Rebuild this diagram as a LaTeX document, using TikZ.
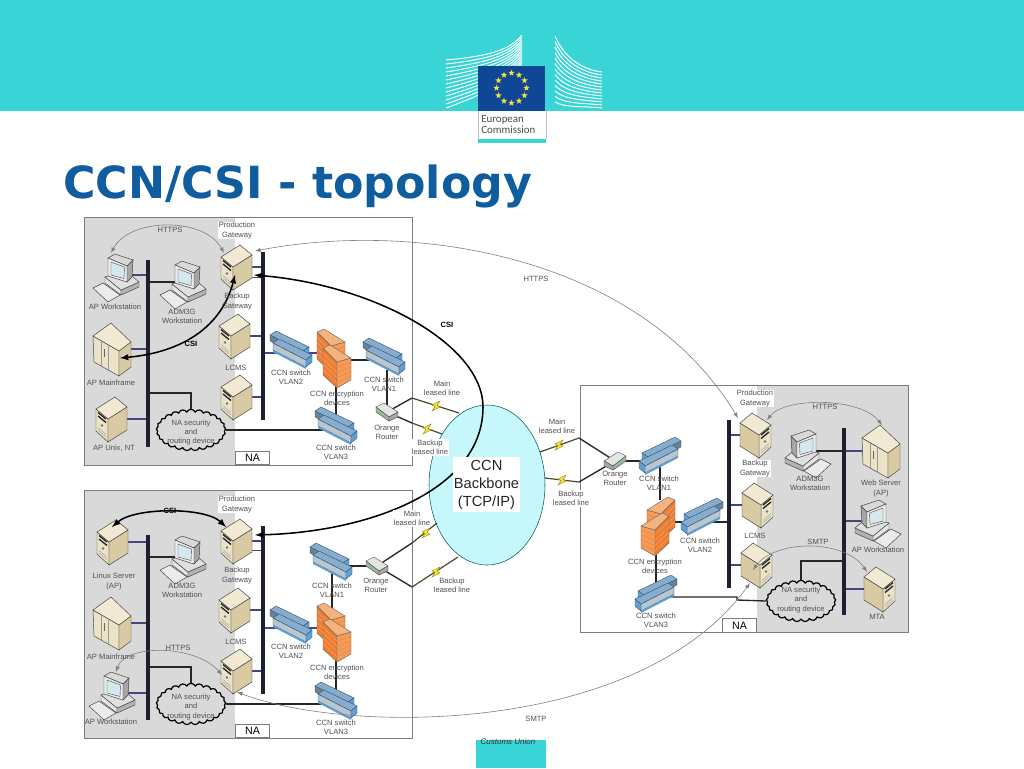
\documentclass[tikz,border=0pt]{standalone}
\usepackage{fontspec}
\setsansfont{Liberation Sans}
\newfontfamily\titlefont{DejaVu Sans}
\newfontfamily\logofont{Carlito}
\usepackage{xcolor}
\usetikzlibrary{arrows}
\usetikzlibrary{shapes.geometric, shapes.symbols}
\definecolor{myteal}{RGB}{56,212,214}
\definecolor{mytitle}{RGB}{15,92,158}
\definecolor{mygray}{RGB}{217,217,217}
\definecolor{myframe}{RGB}{125,125,125}
\definecolor{mylan}{RGB}{70,70,125}
\definecolor{mybus}{RGB}{28,32,50}
\definecolor{mytext}{RGB}{80,80,80}
\definecolor{myflag}{RGB}{15,70,150}
\definecolor{mystar}{RGB}{245,225,60}
\definecolor{myocean}{RGB}{198,248,251}
\definecolor{srvtop}{RGB}{241,233,210}
\definecolor{srvleft}{RGB}{236,226,198}
\definecolor{srvright}{RGB}{216,202,163}
\definecolor{swtop}{RGB}{135,172,205}
\definecolor{swface}{RGB}{105,130,150}
\definecolor{swlight}{RGB}{185,198,206}
\definecolor{swend}{RGB}{95,160,215}
\definecolor{swdark}{RGB}{50,85,115}
\definecolor{fwleft}{RGB}{236,125,50}
\definecolor{fwright}{RGB}{244,155,88}
\definecolor{fwtop}{RGB}{246,178,125}
\tikzset{
lbl/.style={font=\sffamily\fontsize{5.7}{6.8}\selectfont,text=mytext,align=center,inner sep=0.6pt},
lblbg/.style={lbl,fill=white},
lblb/.style={lbl,font=\sffamily\bfseries\fontsize{5.7}{6.8}\selectfont,text=black},
lan/.style={color=mylan,line width=0.9},
wire/.style={color=black!85,line width=1},
bus/.style={color=mybus,line width=2.3},
leased/.style={color=black!60!olive,line width=0.9},
arc/.style={color=black!50,line width=0.45,latex-latex},
csi/.style={color=black,line width=1.15,latex-latex},
bolt/.style={fill=mystar,draw=olive,line width=0.3},
nacloud/.style={cloud,cloud puffs=25,cloud puff arc=130,aspect=1.75,draw=black,line width=0.9,minimum width=52pt,minimum height=31pt,inner sep=0},
nabox/.style={draw=myframe,fill=white,line width=0.6,font=\sffamily\fontsize{8}{9}\selectfont,minimum width=26pt,minimum height=10pt,inner sep=0},
serverbox/.pic={
\filldraw[fill=srvleft,draw=black!75,line width=0.35] (-16,-10) -- (-4,0) -- (-4,23) -- (-16,12) -- cycle;
\filldraw[fill=srvright,draw=black!75,line width=0.35] (-4,0) -- (15,-12) -- (15,11) -- (-4,23) -- cycle;
\filldraw[fill=srvtop,draw=black!75,line width=0.35] (-16,-10) -- (3,-22) -- (15,-12) -- (-4,0) -- cycle;
\draw[black!85,line width=1] (-14,-6.5) -- (-6,0) (-14,-3) -- (-6,3.5);
\fill[black!55] (-10,6.5) circle (1.3);
\draw[black!35,line width=0.4] (-14,11) -- (-6,18) (-14,8.5) -- (-6,15.5);
},
towerbox/.pic={
\filldraw[fill=srvleft,draw=black!75,line width=0.35] (-19,-13) -- (7,2) -- (7,27) -- (-18,13) -- cycle;
\filldraw[fill=srvright,draw=black!75,line width=0.35] (7,2) -- (19,-7) -- (19,18) -- (7,27) -- cycle;
\filldraw[fill=srvtop,draw=black!75,line width=0.35] (-19,-13) -- (-1,-26) -- (19,-7) -- (7,2) -- cycle;
\draw[black!40,line width=0.4] (-11,-8) -- (-11,17) (-4,-4.5) -- (-4,21);
\draw[black!60,line width=0.5] (-7.5,0) -- (-7.5,8);
},
workstation/.pic={
\filldraw[fill=black!10,draw=black!75,line width=0.35] (-10,2) -- (6,15) -- (6,20) -- (-10,8) -- cycle;
\filldraw[fill=black!30,draw=black!75,line width=0.35] (6,15) -- (24,7) -- (24,12) -- (6,20) -- cycle;
\filldraw[fill=black!12,draw=black!75,line width=0.35] (-10,2) -- (10,-5) -- (24,7) -- (6,15) -- cycle;
\filldraw[fill=black!35,draw=black!75,line width=0.35] (12,-9) -- (18,-15) -- (17,2) -- (12,7) -- cycle;
\filldraw[fill=black!15,draw=black!75,line width=0.35] (-7,-17) -- (0,-21) -- (18,-15) -- (12,-9) -- cycle;
\filldraw[fill=black!8,draw=black!75,line width=0.35] (-7,-17) -- (12,-9) -- (12,7) -- (-7,1) -- cycle;
\filldraw[fill=black!35!cyan!18!white,draw=black!70,line width=0.3] (-4,-13) -- (9.5,-8) -- (9,3.5) -- (-4,0) -- cycle;
\filldraw[fill=black!8,draw=black!75,line width=0.35] (-22,13) -- (-12,8) -- (5,20) -- (-7,27) -- cycle;
},
vlanswitch/.pic={
\filldraw[fill=swface,draw=swdark,line width=0.3] (-20,-14) -- (13,2) -- (13,8) -- (-20,-8) -- cycle;
\filldraw[fill=swtop,draw=swdark,line width=0.3] (-20,-14) -- (-14,-18) -- (19,-2) -- (13,2) -- cycle;
\filldraw[fill=swend,draw=swdark,line width=0.3] (13,2) -- (19,-2) -- (19,4) -- (13,8) -- cycle;
\filldraw[fill=swlight,draw=swdark,line width=0.3] (-17,-6) -- (16,11) -- (16,18) -- (-17,1) -- cycle;
\filldraw[fill=swtop,draw=swdark,line width=0.3] (-17,-6) -- (-11,-10) -- (22,6) -- (16,11) -- cycle;
\filldraw[fill=swend,draw=swdark,line width=0.3] (16,11) -- (22,6) -- (22,13) -- (16,18) -- cycle;
\fill[swend] (-17,1) -- (16,18) -- (16,20) -- (-17,3) -- cycle;
},
firewallbox/.pic={
\foreach \s in {-6,0}{
\begin{scope}[shift={(\s,2.67*\s)}]
\filldraw[fill=fwleft,draw=black!60,line width=0.3] (-10,-10) -- (4,4) -- (4,30) -- (-10,17) -- cycle;
\filldraw[fill=fwright,draw=black!60,line width=0.3] (4,4) -- (18,0) -- (18,22) -- (4,30) -- cycle;
\filldraw[fill=fwtop,draw=black!60,line width=0.3] (-10,-10) -- (-3,-13) -- (18,0) -- (4,4) -- cycle;
\foreach \k in {1,...,4}{
\draw[fwleft,line width=0.25] (4,{4+5.2*\k}) -- (18,{0+4.4*\k});
\draw[fwtop,line width=0.25] (-10,{-10+5.4*\k}) -- (4,{4+5.2*\k});
}
\end{scope}
}
},
orangerouter/.pic={
\filldraw[fill=black!10,draw=black!70,line width=0.3] (-11,-5) -- (-3,-9) -- (11,0) -- (2,5) -- cycle;
\filldraw[fill=green!30!black!40,draw=black!70,line width=0.3] (-11,-5) -- (2,5) -- (2,9) -- (-11,0) -- cycle;
\filldraw[fill=black!35,draw=black!70,line width=0.3] (2,5) -- (11,0) -- (11,5) -- (2,9) -- cycle;
},
zigzag/.pic={
\filldraw[bolt] (-4,-1) -- (4,-5) -- (1,-0.5) -- (4,1) -- (-4,5) -- (-1,0.5) -- cycle;
},
}
\begin{document}
\begin{tikzpicture}[x=0.75pt,y=-0.75pt]
\useasboundingbox (0,0) rectangle (1024,768);
\fill[white] (0,0) rectangle (1024,768);

%header and logo
\fill[myteal] (0,0) rectangle (1024,111);
\foreach \k in {0,...,12}{
\draw[white,line width=0.75] (446,{60+4*\k}) .. controls (490,{56+3*\k}) and (510,{50+2.5*\k}) .. (522,{35+2.5*\k});
\draw[white,line width=0.75] (555,{36+5.5*\k}) .. controls (565,{60+4*\k}) and (585,{70+3*\k}) .. (602,{72+3*\k});
}
\fill[myflag] (478,66) rectangle (545,111);
\foreach \a in {0,30,...,330}{
\node[star,star points=5,star point ratio=2.4,fill=mystar,inner sep=0,minimum size=5pt] (star\a) at ({511.5+15*cos(\a)},{88+15*sin(\a)}) {};
}
\fill[white] (478,111) rectangle (546,143);
\fill[myteal] (478,139) rectangle (546,143);
\draw[black!25,line width=0.4] (478,111) -- (478,139) (546,111) -- (546,139);
\node[anchor=west,inner sep=0,text=black!70,font=\logofont\fontsize{8.2}{9}\selectfont] (logoA) at (481,120) {European};
\node[anchor=west,inner sep=0,text=black!70,font=\logofont\fontsize{8.2}{9}\selectfont] (logoB) at (481,130) {Commission};
\node[anchor=base west,inner sep=0,text=mytitle,font=\titlefont\bfseries\fontsize{33.2}{36}\selectfont] (title) at (63,198) {CCN/CSI - topology};
\fill[myteal] (476,740) rectangle (546,768);
\node[inner sep=0,text=black!80,font=\sffamily\itshape\fontsize{6}{7}\selectfont] (footer) at (508,742) {Customs Union};

%site frames
\fill[mygray] (84,217) rectangle (235,465);
\fill[mygray] (84,490) rectangle (235,738);
\fill[mygray] (757,385) rectangle (908,632);
\draw[myframe,line width=0.6] (84,217) rectangle (412,465);
\draw[myframe,line width=0.6] (84,490) rectangle (412,738);
\draw[myframe,line width=0.6] (580,385) rectangle (908,632);
\node[nabox] (naA) at (252.5,458) {NA};
\node[nabox] (naB) at (252.5,731) {NA};
\node[nabox] (naC) at (739.5,625.5) {NA};

%backbone
\node[ellipse,draw=black!30!teal,fill=myocean,line width=0.4,minimum width=87pt,minimum height=120pt,inner sep=0] (backbone) at (487,485) {};

%site A
\coordinate (busAl) at (148,260);
\coordinate (busAlb) at (148,447);
\coordinate (busAr) at (263,252);
\coordinate (busArb) at (263,420);
\coordinate (wsA) at (115,275);
\coordinate (admA) at (182,282);
\coordinate (mainA) at (112,349);
\coordinate (unixA) at (112,419);
\coordinate (gwA) at (237,267);
\coordinate (lcmsA) at (235,336);
\coordinate (secA) at (237,397);
\coordinate (swbA) at (290,349);
\coordinate (fwA) at (333,358);
\coordinate (swaA) at (383,356);
\coordinate (rtA) at (387,412);
\coordinate (swcA) at (335,425);
\coordinate (cornerA) at (412,398);
\coordinate (cornerAb) at (412,423);
\coordinate (landA) at (459,413);
\coordinate (landAb) at (442,434);
\node[nacloud] (cloudA) at (191,430) {};

\draw[lan] (wsA) -- (wsA -| busAl);
\draw[wire] (admA) -- (admA -| busAl);
\draw[lan] (mainA) -- (mainA -| busAl);
\draw[lan] (unixA) -- (unixA -| busAl);
\draw[lan] (gwA) -- (gwA -| busAr);
\draw[lan] ([yshift=-8pt]gwA) -- ([yshift=-8pt]gwA -| busAr);
\draw[lan] (lcmsA) -- (lcmsA -| busAr);
\draw[lan] (secA) -- (secA -| busAr);
\draw[lan] (busAr |- 0,353) -- (fwA |- 0,353);
\draw[wire] (fwA |- 0,360) -- (swaA |- 0,360);
\draw[wire] (336,380) -- (336,420);
\draw[wire] (387,370) -- (rtA);
\draw[wire] (busAl |- 0,393) -- (191,393) -- (cloudA.north);
\draw[wire] (cloudA.east) -- (swcA |- cloudA.east);
\draw[wire] (rtA) -- (cornerA);
\draw[wire] (rtA) -- (cornerAb);
\draw[leased] (cornerA) -- (landA);
\draw[leased] (cornerAb) -- (landAb);
\draw[bus] (busAl) -- (busAlb);
\draw[bus] (busAr) -- (busArb);

\pic at (wsA) {workstation};
\pic at (admA) {workstation};
\pic at (mainA) {towerbox};
\pic at (unixA) {serverbox};
\pic at (gwA) {serverbox};
\pic at (lcmsA) {serverbox};
\pic at (secA) {serverbox};
\pic at (swbA) {vlanswitch};
\pic at (fwA) {firewallbox};
\pic at (swaA) {vlanswitch};
\pic at (swcA) {vlanswitch};
\pic at (rtA) {orangerouter};
\pic at (436,406) {zigzag};
\pic at (427,429) {zigzag};

%site B
\coordinate (busBl) at (148,535);
\coordinate (busBlb) at (148,720);
\coordinate (busBr) at (263,526);
\coordinate (busBrb) at (263,694);
\coordinate (linuxB) at (113,542);
\coordinate (admB) at (182,557);
\coordinate (mainB) at (112,623);
\coordinate (wsB) at (111,693);
\coordinate (gwB) at (237,541);
\coordinate (lcmsB) at (235,610);
\coordinate (secB) at (237,671);
\coordinate (swaB) at (330,561);
\coordinate (rtB) at (377,566);
\coordinate (swbB) at (290,624);
\coordinate (fwB) at (333,632);
\coordinate (swcB) at (335,700);
\coordinate (cornerB) at (412,543);
\coordinate (cornerBb) at (412,587);
\coordinate (landB) at (437,523);
\coordinate (landBb) at (458,557);
\node[nacloud] (cloudB) at (191,704) {};

\draw[lan] (linuxB) -- (linuxB -| busBl);
\draw[wire] (admB) -- (admB -| busBl);
\draw[lan] (mainB) -- (mainB -| busBl);
\draw[lan] (wsB) -- (wsB -| busBl);
\draw[lan] (gwB) -- (gwB -| busBr);
\draw[lan] ([yshift=-7pt]gwB) -- ([yshift=-7pt]gwB -| busBr);
\draw[lan] (lcmsB) -- (lcmsB -| busBr);
\draw[lan] (secB) -- (secB -| busBr);
\draw[lan] (busBr |- 0,628) -- (fwB |- 0,628);
\draw[wire] (332,570) -- (332,610);
\draw[wire] (336,660) -- (336,690);
\draw[wire] (rtB) -- (rtB -| swaB);
\draw[wire] (busBl |- 0,667) -- (191,667) -- (cloudB.north);
\draw[wire] (cloudB.east) -- (swcB |- cloudB.east);
\draw[wire] (rtB) -- (cornerB);
\draw[wire] (rtB) -- (cornerBb);
\draw[leased] (cornerB) -- (landB);
\draw[leased] (cornerBb) -- (landBb);
\draw[bus] (busBl) -- (busBlb);
\draw[bus] (busBr) -- (busBrb);

\pic at (linuxB) {serverbox};
\pic at (admB) {workstation};
\pic at (mainB) {towerbox};
\pic at (wsB) {workstation};
\pic at (gwB) {serverbox};
\pic at (lcmsB) {serverbox};
\pic at (secB) {serverbox};
\pic at (swaB) {vlanswitch};
\pic at (swbB) {vlanswitch};
\pic at (fwB) {firewallbox};
\pic at (swcB) {vlanswitch};
\pic at (rtB) {orangerouter};
\pic at (426,533) {zigzag};
\pic at (436,572) {zigzag};

%site C
\coordinate (busCl) at (729,420);
\coordinate (busClb) at (729,588);
\coordinate (busCr) at (844,428);
\coordinate (busCrb) at (844,615);
\coordinate (gwC) at (755,435);
\coordinate (lcmsC) at (757,505);
\coordinate (secC) at (756,565);
\coordinate (admC) at (809,451);
\coordinate (webC) at (881,451);
\coordinate (wsC) at (879,521);
\coordinate (mtaC) at (879,589);
\coordinate (swaC) at (661,455);
\coordinate (rtC) at (615,461);
\coordinate (swbC) at (703,516);
\coordinate (fwC) at (659,526);
\coordinate (swcC) at (657,593);
\coordinate (cornerC) at (579,438);
\coordinate (cornerCb) at (579,482);
\coordinate (landC) at (540,452);
\coordinate (landCb) at (545,478);
\node[nacloud] (cloudC) at (801,601) {};

\draw[lan] (gwC) -- (gwC -| busCl);
\draw[lan] (lcmsC) -- (lcmsC -| busCl);
\draw[lan] (secC) -- (secC -| busCl);
\draw[wire] (busCl |- 0,522) -- (fwC |- 0,522);
\draw[wire] (admC) -- (admC -| busCr);
\draw[lan] (webC) -- (webC -| busCr);
\draw[lan] (wsC) -- (wsC -| busCr);
\draw[lan] (mtaC) -- (mtaC -| busCr);
\draw[wire] (660,467) -- (660,500);
\draw[wire] (656,550) -- (656,585);
\draw[wire] (rtC) -- (rtC -| swaC);
\draw[wire] (busCr |- 0,561) -- (801,561) -- (cloudC.north);
\draw[wire] (swcC |- 0,597) -- (737,597) -- (737,600) -- (cloudC.west);
\draw[wire] (rtC) -- (cornerC);
\draw[wire] (rtC) -- (cornerCb);
\draw[leased] (cornerC) -- (landC);
\draw[leased] (cornerCb) -- (landCb);
\draw[bus] (busCl) -- (busClb);
\draw[bus] (busCr) -- (busCrb);

\pic[xscale=-1] at (gwC) {serverbox};
\pic[xscale=-1] at (lcmsC) {serverbox};
\pic[xscale=-1] at (secC) {serverbox};
\pic[xscale=-1] at (admC) {workstation};
\pic at (webC) {towerbox};
\pic[xscale=-1] at (wsC) {workstation};
\pic[xscale=-1] at (mtaC) {serverbox};
\pic[xscale=-1] at (swaC) {vlanswitch};
\pic[xscale=-1] at (swbC) {vlanswitch};
\pic[xscale=-1] at (fwC) {firewallbox};
\pic[xscale=-1] at (swcC) {vlanswitch};
\pic[xscale=-1] at (rtC) {orangerouter};
\pic at (559,445) {zigzag};
\pic at (562,480) {zigzag};

%protocol arcs
\coordinate (httpsAa) at (224,253);
\coordinate (httpsAb) at (111,253);
\coordinate (csiAa) at (235,275);
\coordinate (csiAb) at (120,358);
\coordinate (csiBa) at (226,527);
\coordinate (csiBb) at (112,527);
\coordinate (httpsBa) at (116,672);
\coordinate (httpsBb) at (222,675);
\coordinate (httpsCa) at (767,420);
\coordinate (httpsCb) at (882,425);
\coordinate (smtpCa) at (753,570);
\coordinate (smtpCb) at (867,572);
\coordinate (longHa) at (255,251);
\coordinate (longHb) at (738,418);
\coordinate (longSa) at (237,692);
\coordinate (longSb) at (750,583);
\coordinate (longCa) at (254,275);
\coordinate (longCm) at (483,407);
\coordinate (longCb) at (255,535);

\draw[arc] (httpsAa) .. controls (205,217) and (130,217) .. (httpsAb);
\draw[csi] (csiAa) .. controls (222,325) and (185,352) .. (csiAb);
\draw[csi] (csiBa) .. controls (205,507) and (135,507) .. (csiBb);
\draw[arc] (httpsBa) .. controls (125,644) and (195,644) .. (httpsBb);
\draw[arc] (httpsCa) .. controls (785,397) and (860,397) .. (httpsCb);
\draw[arc] (smtpCa) .. controls (775,539) and (845,539) .. (smtpCb);
\draw[arc] (longHa) .. controls (416,220) and (640,256) .. (longHb);
\draw[arc] (longSa) .. controls (350,735) and (640,735) .. (longSb);
\draw[color=black,line width=1.15,latex-] (longCa) .. controls (375,285) and (483,345) .. (longCm);
\draw[color=black,line width=1.15,-latex] (longCm) .. controls (483,490) and (370,532) .. (longCb);

%backbone text on top
\node[fill=white,align=center,inner sep=0,minimum width=50pt,minimum height=41pt,font=\sffamily\fontsize{11}{13.5}\selectfont,text=black!85] (backboneT) at (486.5,484.5) {CCN\\Backbone\\(TCP/IP)};

%labels site A
\node[lbl] (lHttpsA) at (170,230) {HTTPS};
\node[lblbg] (lProdA) at (237,230.5) {Production\\Gateway};
\node[lbl] (lBackA) at (237,301.5) {Backup\\Gateway};
\node[lbl] (lWsA) at (115,307) {AP Workstation};
\node[lbl] (lAdmA) at (182,316) {ADM3G\\Workstation};
\node[lbl] (lMainA) at (111,383) {AP Mainframe};
\node[lbl] (lUnixA) at (114,448) {AP Unix, NT};
\node[lbl] (lLcmsA) at (236,368) {LCMS};
\node[lblb] (lCsiA) at (191,344) {CSI};
\node[lblb] (lCsiL) at (447,325) {CSI};
\node[lbl] (lSwbA) at (291,377.5) {CCN switch\\VLAN2};
\node[lbl] (lFwA) at (337,398.5) {CCN encryption\\devices};
\node[lbl] (lSwaA) at (384,384.5) {CCN switch\\VLAN1};
\node[lbl] (lRtA) at (387,432) {Orange\\Router};
\node[lbl] (lSwcA) at (336,452.5) {CCN switch\\VLAN3};
\node[lbl] (lCloudA) at (191,432.5) {NA security\\and\\routing device};
\node[lblbg] (lMainLA) at (442,388.5) {Main\\leased line};
\node[lblbg] (lBackLA) at (430,447.5) {Backup\\leased line};

%labels site B
\node[lblbg] (lProdB) at (237,504.5) {Production\\Gateway};
\node[lbl] (lBackB) at (237,575.5) {Backup\\Gateway};
\node[lbl] (lLinuxB) at (114,581.5) {Linux Server\\(AP)};
\node[lbl] (lAdmB) at (182,590.5) {ADM3G\\Workstation};
\node[lbl] (lMainB) at (111,657) {AP Mainframe};
\node[lbl] (lWsB) at (111,722) {AP Workstation};
\node[lbl] (lLcmsB) at (236,642) {LCMS};
\node[lblb] (lCsiB) at (170,511) {CSI};
\node[lbl] (lHttpsB) at (178,648) {HTTPS};
\node[lbl] (lSwaB) at (332,590.5) {CCN switch\\VLAN1};
\node[lbl] (lRtB) at (376,585) {Orange\\Router};
\node[lbl] (lSwbB) at (291,651.5) {CCN switch\\VLAN2};
\node[lbl] (lFwB) at (337,672.5) {CCN encryption\\devices};
\node[lbl] (lSwcB) at (336,727) {CCN switch\\VLAN3};
\node[lbl] (lCloudB) at (191,707) {NA security\\and\\routing device};
\node[lblbg] (lMainLB) at (412,518.5) {Main\\leased line};
\node[lblbg] (lBackLB) at (452,585.5) {Backup\\leased line};

%labels site C
\node[lblbg] (lProdC) at (755,398.5) {Production\\Gateway};
\node[lblbg] (lBackC) at (755,468.5) {Backup\\Gateway};
\node[lbl] (lHttpsC) at (825,407) {HTTPS};
\node[lbl] (lAdmC) at (810,483.5) {ADM3G\\Workstation};
\node[lbl] (lWebC) at (881,488.5) {Web Server\\(AP)};
\node[lbl] (lWsC) at (878,550) {AP Workstation};
\node[lbl] (lMtaC) at (877,617) {MTA};
\node[lbl] (lLcmsC) at (755,536) {LCMS};
\node[lbl] (lSmtpC) at (818,542) {SMTP};
\node[lbl] (lSwaC) at (659,483.5) {CCN switch\\VLAN1};
\node[lbl] (lRtC) at (615,478.5) {Orange\\Router};
\node[lbl] (lSwbC) at (700,545.5) {CCN switch\\VLAN2};
\node[lbl] (lFwC) at (655,566.5) {CCN encryption\\devices};
\node[lbl] (lSwcC) at (656,620.5) {CCN switch\\VLAN3};
\node[lbl] (lCloudC) at (801,600) {NA security\\and\\routing device};
\node[lblbg] (lMainLC) at (557,426.5) {Main\\leased line};
\node[lblbg] (lBackLC) at (571,498.5) {Backup\\leased line};
\node[lbl] (lHttpsL) at (536,279) {HTTPS};
\node[lbl] (lSmtpL) at (536,719) {SMTP};
\end{tikzpicture}
\end{document}
